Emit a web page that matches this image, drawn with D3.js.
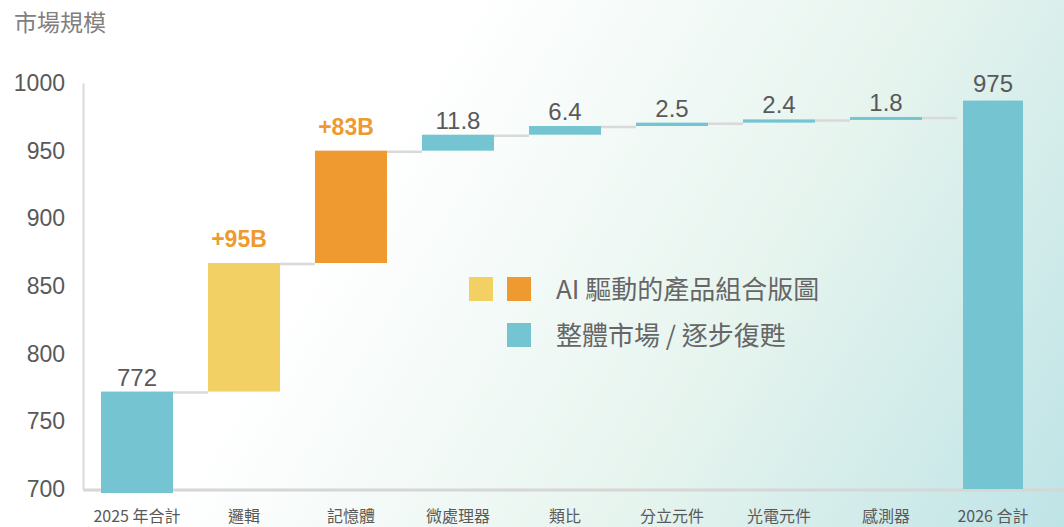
<!DOCTYPE html>
<html>
<head>
<meta charset="utf-8">
<script src="https://cdn.jsdelivr.net/npm/d3@7"></script>
<style>
  body { margin: 0; background: #fff; }
  text { font-family: "Liberation Sans", Arial, sans-serif; }
  .cjk { font-family: "Noto Sans CJK TC", "Noto Sans", sans-serif; }
</style>
</head>
<body>
<div class="chart"></div>
<script>
// categories along the x axis
let categories = ['2025 年合計', '邏輯', '記憶體', '微處理器', '類比', '分立元件', '光電元件', '感測器', '2026 合計']
// start total, step increases, end total (bar height as drawn in the picture)
let startTotal = 772
let deltas = [95, 83, 11.8, 6.4, 2.5, 2.4, 1.8]
let endTotalDrawn = 987
// label texts
let valueLabels = ['772', '+95B', '+83B', '11.8', '6.4', '2.5', '2.4', '1.8', '975']
// which steps are "AI" driven (0 = none, 1 = yellow, 2 = orange)
let stepGroup = [1, 2, 0, 0, 0, 0, 0]
let yTicks = [700, 750, 800, 850, 900, 950, 1000]
let legendLabels = ['AI 驅動的產品組合版圖', '整體市場 / 逐步復甦']

var W = 1064, H = 527
var colors = { teal: '#74c5d1', yellow: '#f2d064', orange: '#ee9a30' }
var groupColor = [colors.teal, colors.yellow, colors.orange]

let svg = d3.select('.chart')
    .append('svg')
    .attr('width', W)
    .attr('height', H)

// background gradient
var defs = svg.append('defs')
var grad = defs.append('linearGradient')
    .attr('id', 'bg')
    .attr('gradientUnits', 'userSpaceOnUse')
    .attr('x1', 380).attr('y1', 150)
    .attr('x2', 1064).attr('y2', 560)
grad.append('stop').attr('offset', 0).attr('stop-color', '#ffffff')
grad.append('stop').attr('offset', 0.5).attr('stop-color', '#e6f4ee')
grad.append('stop').attr('offset', 1).attr('stop-color', '#bde3e6')
svg.append('rect').attr('width', W).attr('height', H).attr('fill', 'url(#bg)')

var yScale = d3.scaleLinear()
    .domain([700, 1000])
    .range([489, 83])

var xScale = d3.scaleBand()
    .domain(categories)
    .range([101, 1029])
    .paddingInner(35 / 107)
    .paddingOuter(0)

// build waterfall segments
let segs = []
segs.push({ cat: categories[0], lo: 700, hi: startTotal, color: colors.teal, label: valueLabels[0], total: true })
let run = startTotal
deltas.forEach((d, i) => {
    segs.push({ cat: categories[i + 1], lo: run, hi: run + d, color: groupColor[stepGroup[i]], label: valueLabels[i + 1], ai: stepGroup[i] > 0 })
    run += d
})
segs.push({ cat: categories[8], lo: 700, hi: endTotalDrawn, color: colors.teal, label: valueLabels[8], total: true, last: true })

// bottom line
svg.append('line')
    .attr('x1', 83).attr('x2', W)
    .attr('y1', yScale(700) + 1).attr('y2', yScale(700) + 1)
    .attr('stroke', '#d6d6d6').attr('stroke-width', 3)

// y axis
var yAxis = d3.axisLeft(yScale).tickValues(yTicks).tickFormat(d3.format('d'))
    .tickSize(0).tickSizeOuter(0).tickPadding(18)
var gy = svg.append('g')
    .attr('transform', 'translate(83,0)')
    .call(yAxis)
gy.select('.domain').attr('stroke', '#d9d9d9').attr('stroke-width', 2)
gy.selectAll('text')
    .attr('fill', '#595959')
    .style('font-size', '23px')
    .style('font-family', '"Liberation Sans", Arial, sans-serif')

// x axis labels
var xAxis = d3.axisBottom(xScale).tickSize(0).tickPadding(22)
var gx = svg.append('g')
    .attr('transform', `translate(0, ${yScale(700)})`)
    .call(xAxis)
gx.select('.domain').remove()
gx.selectAll('text')
    .attr('class', 'cjk')
    .attr('fill', '#595959')
    .style('font-size', '16px')
    .style('font-family', '"Noto Sans CJK TC", sans-serif')

// connectors
svg.selectAll('line.conn')
    .data(segs.slice(0, segs.length - 1))
    .enter()
    .append('line')
    .attr('class', 'conn')
    .attr('x1', d => xScale(d.cat) + xScale.bandwidth())
    .attr('x2', (d, i) => xScale(segs[i + 1].cat))
    .attr('y1', d => yScale(d.hi) + 1)
    .attr('y2', d => yScale(d.hi) + 1)
    .attr('stroke', '#d9d9d9')
    .attr('stroke-width', 2.5)

// bars
var barW = d => d.last ? 60 : xScale.bandwidth()
svg.selectAll('rect.bar')
    .data(segs)
    .enter()
    .append('rect')
    .attr('class', 'bar')
    .attr('x', d => xScale(d.cat) + (xScale.bandwidth() - barW(d)) / 2)
    .attr('width', barW)
    .attr('y', d => yScale(d.hi))
    .attr('height', d => Math.max(3, yScale(d.lo) - yScale(d.hi)) + (d.total && !d.last ? 4 : 0))
    .attr('fill', d => d.color)

// value labels
svg.selectAll('text.val')
    .data(segs)
    .enter()
    .append('text')
    .attr('class', 'val')
    .attr('x', d => xScale(d.cat) + xScale.bandwidth() / 2 - (d.ai ? 5 : 0))
    .attr('y', d => yScale(d.hi) - (d.ai ? 16 : d.last ? 9 : 6))
    .attr('text-anchor', 'middle')
    .attr('fill', d => d.ai ? colors.orange : '#595959')
    .style('font-size', d => d.ai ? '23px' : '24px')
    .style('font-weight', d => d.ai ? 'bold' : 'normal')
    .text(d => d.label)

// title
svg.append('text')
    .attr('class', 'cjk')
    .attr('x', 14).attr('y', 31)
    .attr('fill', '#808080')
    .style('font-size', '23px')
    .text('市場規模')

// legend
var lg = svg.append('g')
lg.append('rect').attr('x', 469).attr('y', 277).attr('width', 24).attr('height', 24).attr('fill', colors.yellow)
lg.append('rect').attr('x', 507).attr('y', 277).attr('width', 24).attr('height', 24).attr('fill', colors.orange)
lg.append('rect').attr('x', 507).attr('y', 323).attr('width', 24).attr('height', 24).attr('fill', colors.teal)
lg.selectAll('text')
    .data(legendLabels)
    .enter()
    .append('text')
    .attr('class', 'cjk')
    .attr('x', 556)
    .attr('y', (d, i) => 299 + i * 46)
    .attr('fill', '#666')
    .style('font-size', '26px')
    .text(d => d)
</script>
</body>
</html>
